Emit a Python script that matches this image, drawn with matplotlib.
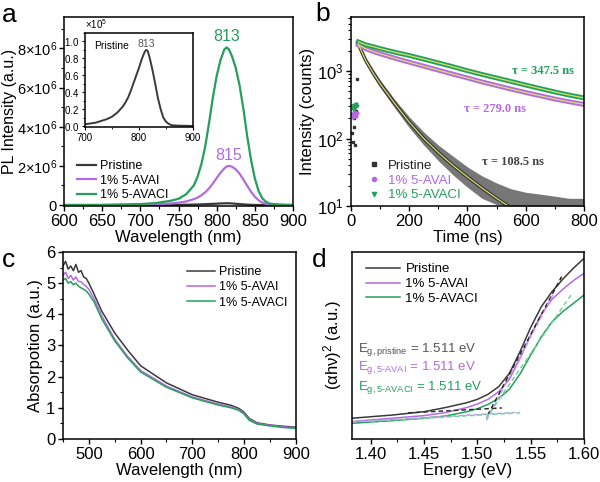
import matplotlib
matplotlib.use("Agg")
import matplotlib.pyplot as plt
from matplotlib.lines import Line2D
from matplotlib.ticker import MultipleLocator, FuncFormatter, ScalarFormatter, LogLocator, NullFormatter

plt.rcParams["font.family"] = ["Liberation Sans", "DejaVu Sans"]
plt.rcParams["mathtext.fontset"] = "custom"
plt.rcParams["mathtext.rm"] = "Liberation Sans"
plt.rcParams["mathtext.it"] = "Liberation Sans:italic"
plt.rcParams["mathtext.bf"] = "Liberation Sans:bold"
plt.rcParams["axes.linewidth"] = 1.1
plt.rcParams["xtick.direction"] = "out"
plt.rcParams["ytick.direction"] = "out"

NEGRO = "#3a3a3a"
MORADO = "#b36ae2"
VERDE = "#23a05a"
AMARILLO = "#dcdc6e"

# ---------------- (a) PL ----------------
pl_nm = [600, 650, 700, 720, 740, 750, 760, 770, 775, 780, 785, 790, 795, 800, 805, 810,
         813, 816, 820, 825, 830, 835, 840, 845, 850, 855, 860, 865, 870, 880, 890, 900]
pl_avacl = [0, 0, 0.05, 0.1, 0.22, 0.32, 0.55, 1.0, 1.45, 2.1, 3.0, 4.2, 5.5, 6.6, 7.4, 7.95,
            8.05, 7.95, 7.6, 7.0, 6.1, 4.9, 3.5, 2.3, 1.35, 0.7, 0.33, 0.15, 0.07, 0.03, 0.01, 0]
pl_avai = [0, 0, 0.02, 0.04, 0.08, 0.12, 0.18, 0.3, 0.38, 0.5, 0.65, 0.85, 1.1, 1.38, 1.65, 1.87,
           1.97, 2.0, 1.96, 1.82, 1.6, 1.3, 0.98, 0.68, 0.42, 0.24, 0.12, 0.06, 0.03, 0.01, 0, 0]
# pristine en unidades de 1e5
pl_pristine = [0, 0.005, 0.02, 0.04, 0.08, 0.11, 0.16, 0.23, 0.28, 0.34, 0.42, 0.51, 0.6, 0.69, 0.79, 0.87,
               0.9, 0.89, 0.8, 0.66, 0.5, 0.33, 0.2, 0.1, 0.05, 0.025, 0.01, 0.007, 0.005, 0.003, 0.002, 0]

# ---------------- (b) TRPL ----------------
t_ns = [25, 50, 75, 100, 150, 200, 250, 300, 350, 400, 450, 500, 550, 600, 650, 700, 750, 800]
trpl_avacl = [2700, 2450, 2300, 2150, 1900, 1700, 1500, 1320, 1160, 1010, 890, 790, 700, 620, 550, 490, 440, 400]
trpl_avai = [2450, 2150, 1950, 1800, 1550, 1350, 1180, 1030, 900, 790, 690, 610, 540, 480, 430, 385, 350, 320]
t_pris = [25, 50, 75, 100, 150, 200, 250, 300, 350, 400, 450, 500, 540]
trpl_pristine = [2500, 1450, 950, 650, 330, 175, 100, 62, 40, 27, 18.5, 13, 10]
t_banda = [25, 50, 75, 100, 150, 200, 250, 300, 350, 400, 450, 500, 550, 600, 650, 700, 750, 800]
pris_sup = [2700, 1600, 1080, 740, 380, 210, 125, 80, 55, 38, 28, 22, 18, 16, 15, 14, 13, 13]
pris_inf = [2300, 1320, 840, 570, 285, 145, 80, 47, 29, 19, 13, 10.5, 10, 10, 10, 10, 10, 10]
t_pre = [3, 6, 9, 12, 15, 18, 21]
pre_avacl = [300, 270, 310, 290, 280, 320, 300]
pre_avai = [230, 210, 250, 220, 240, 215, 235]
pre_pristine = [120, 90, 200, 150, 80, 260, 760]

# ---------------- (c) Absorcion ----------------
abs_nm = [450, 455, 460, 465, 470, 475, 480, 485, 490, 495, 500, 510, 525, 550, 575, 600, 650, 700,
          750, 775, 790, 800, 810, 825, 850, 875, 900]
abs_pristine = [5.55, 5.7, 5.45, 5.55, 5.4, 5.6, 5.35, 5.4, 5.2, 5.15, 5.0, 4.65, 4.1, 3.4, 2.85, 2.35, 1.8, 1.42,
                1.18, 1.08, 0.98, 0.86, 0.66, 0.52, 0.45, 0.41, 0.38]
abs_avai = [5.25, 5.35, 5.15, 5.25, 5.1, 5.2, 5.05, 5.05, 4.95, 4.9, 4.8, 4.5, 3.95, 3.2, 2.65, 2.2, 1.7, 1.35,
            1.12, 1.03, 0.94, 0.83, 0.63, 0.5, 0.44, 0.39, 0.36]
abs_avacl = [5.1, 5.15, 5.0, 5.05, 4.95, 5.0, 4.9, 4.85, 4.8, 4.75, 4.65, 4.4, 3.85, 3.15, 2.6, 2.15, 1.66, 1.32,
             1.09, 1.0, 0.92, 0.8, 0.6, 0.48, 0.42, 0.37, 0.34]

# ---------------- (d) Tauc ----------------
energia = [1.3825, 1.40, 1.42, 1.45, 1.47, 1.49, 1.50, 1.51, 1.52, 1.53, 1.54, 1.55, 1.56, 1.57, 1.58, 1.59, 1.60]
tauc_pristine = [0.111, 0.119, 0.128, 0.146, 0.168, 0.194, 0.212, 0.239, 0.280, 0.351, 0.467, 0.597, 0.708,
                 0.788, 0.854, 0.913, 0.966]
tauc_avai = [0.093, 0.102, 0.111, 0.125, 0.141, 0.168, 0.187, 0.212, 0.253, 0.319, 0.431, 0.556, 0.668,
             0.747, 0.800, 0.847, 0.886]
tauc_avacl = [0.084, 0.091, 0.098, 0.111, 0.123, 0.146, 0.162, 0.185, 0.217, 0.266, 0.348, 0.449, 0.547,
              0.627, 0.681, 0.725, 0.770]
# rectas tangentes y lineas base (E, y)
tang_pristine = ([1.5097, 1.579], [0.128, 0.868])
tang_avai = ([1.5085, 1.5725], [0.100, 0.788])
tang_avacl = ([1.508, 1.589], [0.110, 0.780])
base_pristine = ([1.435, 1.523], [0.140, 0.166])
base_avai = ([1.3825, 1.535], [0.092, 0.142])
base_avacl = ([1.40, 1.542], [0.095, 0.141])

fig = plt.figure(figsize=(6.0, 4.82), dpi=100)
TAM = 12


def estilo(ax):
    ax.tick_params(which="major", length=3.5, width=1.0, labelsize=TAM, pad=2)
    ax.tick_params(which="minor", length=2, width=0.8)


# ---- a ----
ax = fig.add_axes([0.1067, 0.5726, 0.3817, 0.392])
ax.plot(pl_nm, [v * 1e5 for v in pl_pristine], color=NEGRO, lw=1.6, label="Pristine")
ax.plot(pl_nm, [v * 1e6 for v in pl_avai], color=MORADO, lw=1.6, label="1% 5-AVAI")
ax.plot(pl_nm, [v * 1e6 for v in pl_avacl], color=VERDE, lw=1.6, label="1% 5-AVACI")
ax.set_xlim(600, 900)
ax.set_ylim(-0.05e6, 9.6e6)
ax.xaxis.set_major_locator(MultipleLocator(50))
ax.xaxis.set_minor_locator(MultipleLocator(25))
ax.yaxis.set_major_locator(MultipleLocator(2e6))
ax.yaxis.set_minor_locator(MultipleLocator(1e6))
ax.yaxis.set_major_formatter(FuncFormatter(
    lambda v, p: "0" if abs(v) < 1 else r"$\mathregular{%d{\times}10^6}$" % round(v / 1e6)))
estilo(ax)
ax.tick_params(axis="y", labelsize=10.5, pad=1.5)
ax.set_xlabel("Wavelength (nm)", fontsize=TAM, labelpad=1)
ax.set_ylabel("PL Intensity (a.u.)", fontsize=11.5, labelpad=0)
ax.text(813, 8.62e6, "813", color=VERDE, fontsize=11.5, ha="center", va="center")
ax.text(815, 2.55e6, "815", color=MORADO, fontsize=11.5, ha="center", va="center")
ax.legend(loc="lower left", bbox_to_anchor=(0.02, -0.02), frameon=False, fontsize=9,
          handlelength=1.5, handletextpad=0.3, labelspacing=0.2, borderpad=0.2)

ins = fig.add_axes([0.1417, 0.7365, 0.18, 0.195])
ins.plot(pl_nm, [v * 1e5 for v in pl_pristine], color=NEGRO, lw=1.4)
ins.set_xlim(700, 900)
ins.set_ylim(-0.012e5, 1.1e5)
ins.xaxis.set_major_locator(MultipleLocator(100))
ins.xaxis.set_minor_locator(MultipleLocator(50))
ins.yaxis.set_major_locator(MultipleLocator(0.2e5))
ins.yaxis.set_minor_locator(MultipleLocator(0.1e5))
fmt = ScalarFormatter(useMathText=True)
fmt.set_powerlimits((0, 0))
ins.yaxis.set_major_formatter(fmt)
ins.yaxis.offsetText.set_fontsize(7)
ins.tick_params(which="major", length=2.5, width=0.8, labelsize=7, pad=1.5)
ins.tick_params(which="minor", length=1.5, width=0.6)
ins.text(0.08, 0.86, "Pristine", transform=ins.transAxes, fontsize=7.5, va="center")
ins.text(813, 0.97e5, "813", color="#555555", fontsize=7.5, ha="center", va="center")

# ---- b ----
ax = fig.add_axes([0.585, 0.5726, 0.388, 0.392])
ax.set_yscale("log")
ax.fill_between(t_banda, pris_inf, pris_sup, color="#4a4a4a", alpha=0.75, lw=0)
ax.plot(t_pris, trpl_pristine, color="#333333", lw=2.5)
ax.plot(t_ns, trpl_avai, color=MORADO, lw=3.5)
ax.plot(t_ns, trpl_avacl, color=VERDE, lw=3.5)
ax.plot(t_ns, trpl_avai, color=AMARILLO, lw=0.9)
ax.plot(t_ns, trpl_avacl, color=AMARILLO, lw=0.9)
ax.plot(t_pris, trpl_pristine, color=AMARILLO, lw=0.9)
ax.plot(t_pre, pre_pristine, "s", color="#333333", ms=1.5, ls="none")
ax.plot(t_pre, pre_avai, "o", color=MORADO, ms=2, ls="none")
ax.plot(t_pre, pre_avacl, "v", color=VERDE, ms=2, ls="none")
ax.set_xlim(0, 800)
ax.set_ylim(10, 6300)
ax.xaxis.set_major_locator(MultipleLocator(200))
ax.xaxis.set_minor_locator(MultipleLocator(100))
ax.yaxis.set_major_locator(LogLocator(base=10, numticks=5))
ax.yaxis.set_minor_locator(LogLocator(base=10, subs=range(2, 10), numticks=20))
ax.yaxis.set_minor_formatter(NullFormatter())
estilo(ax)
ax.set_xlabel("Time (ns)", fontsize=TAM, labelpad=1)
ax.set_ylabel("Intensity (counts)", fontsize=TAM, labelpad=1)
tau = dict(family=["Liberation Serif", "DejaVu Serif"], fontsize=9, fontweight="bold", ha="center", va="center")
ax.text(660, 1000, "τ = 347.5 ns", color=VERDE, **tau)
ax.text(494, 270, "τ = 279.0 ns", color=MORADO, **tau)
ax.text(557, 45, "τ = 108.5 ns", color="#444444", **tau)
manejadores = [
    Line2D([], [], marker="s", ls="none", color="#333333", ms=2.5),
    Line2D([], [], marker="o", ls="none", color=MORADO, ms=3),
    Line2D([], [], marker="v", ls="none", color=VERDE, ms=3),
]
leg = ax.legend(manejadores, ["Pristine", "1% 5-AVAI", "1% 5-AVACI"], loc="lower left",
                bbox_to_anchor=(0.03, -0.025), frameon=False, fontsize=9.5, handlelength=1.0,
                handletextpad=0.6, labelspacing=0.2, borderpad=0.2)
for txt, c in zip(leg.get_texts(), ["#222222", MORADO, VERDE]):
    txt.set_color(c)

# ---- c ----
ax = fig.add_axes([0.105, 0.0892, 0.388, 0.388])
ax.plot(abs_nm, abs_pristine, color=NEGRO, lw=1.1, label="Pristine")
ax.plot(abs_nm, abs_avai, color=MORADO, lw=1.1, label="1% 5-AVAI")
ax.plot(abs_nm, abs_avacl, color=VERDE, lw=1.1, label="1% 5-AVACI")
ax.set_xlim(450, 900)
ax.set_ylim(0, 6)
ax.xaxis.set_major_locator(MultipleLocator(100))
ax.xaxis.set_minor_locator(MultipleLocator(50))
ax.yaxis.set_major_locator(MultipleLocator(1))
ax.yaxis.set_minor_locator(MultipleLocator(0.5))
estilo(ax)
ax.set_xlabel("Wavelength (nm)", fontsize=TAM, labelpad=1)
ax.set_ylabel("Absorpotion (a.u.)", fontsize=TAM, labelpad=2)
ax.legend(loc="upper right", bbox_to_anchor=(1.0, 0.97), frameon=False, fontsize=9,
          handlelength=2.2, handletextpad=0.3, labelspacing=0.25, borderpad=0.2)

# ---- d ----
ax = fig.add_axes([0.5867, 0.0892, 0.3867, 0.388])
ax.plot(energia, tauc_pristine, color=NEGRO, lw=1.1, label="Pristine")
ax.plot(energia, tauc_avai, color=MORADO, lw=1.1, label="1% 5-AVAI")
ax.plot(energia, tauc_avacl, color=VERDE, lw=1.1, label="1% 5-AVACI")
for (xs, ys), c in [(tang_pristine, "#222222"), (tang_avai, "#c99af0"), (tang_avacl, "#6fd39a"),
                    (base_pristine, "#333333"), (base_avai, "#c99af0"), (base_avacl, "#6fd39a")]:
    ax.plot(xs, ys, color=c, lw=1.1, ls=(0, (3, 2)))
ax.set_xlim(1.3825, 1.60)
ax.set_ylim(0, 1)
ax.xaxis.set_major_locator(MultipleLocator(0.05))
ax.xaxis.set_minor_locator(MultipleLocator(0.025))
ax.xaxis.set_major_formatter(FuncFormatter(lambda v, p: "%.2f" % v))
ax.set_yticks([])
estilo(ax)
ax.set_xlabel("Energy (eV)", fontsize=TAM, labelpad=1)
ax.set_ylabel(r"$\mathregular{(\alpha h\nu)^2}$ (a.u.)", fontsize=TAM, labelpad=6)
ax.text(1.3885, 0.476, r"$\mathregular{E_{g,pristine}}$ = 1.511 eV", color="#555555", fontsize=9.5, va="center")
ax.text(1.3885, 0.38, r"$\mathregular{E_{g,5\text{-}AVAI}}$ = 1.511 eV", color=MORADO, fontsize=9.5, va="center")
ax.text(1.3885, 0.273, r"$\mathregular{E_{g,5\text{-}AVACI}}$ = 1.511 eV", color=VERDE, fontsize=9.5, va="center")
ax.legend(loc="upper left", bbox_to_anchor=(0.02, 0.99), frameon=False, fontsize=9.5,
          handlelength=2.6, handletextpad=0.4, labelspacing=0.2, borderpad=0.2)

fig.text(0.003, 0.954, "a", fontsize=19)
fig.text(0.525, 0.957, "b", fontsize=19)
fig.text(0.003, 0.446, "c", fontsize=19)
fig.text(0.52, 0.446, "d", fontsize=19)

fig.savefig("out.png", dpi=100)
